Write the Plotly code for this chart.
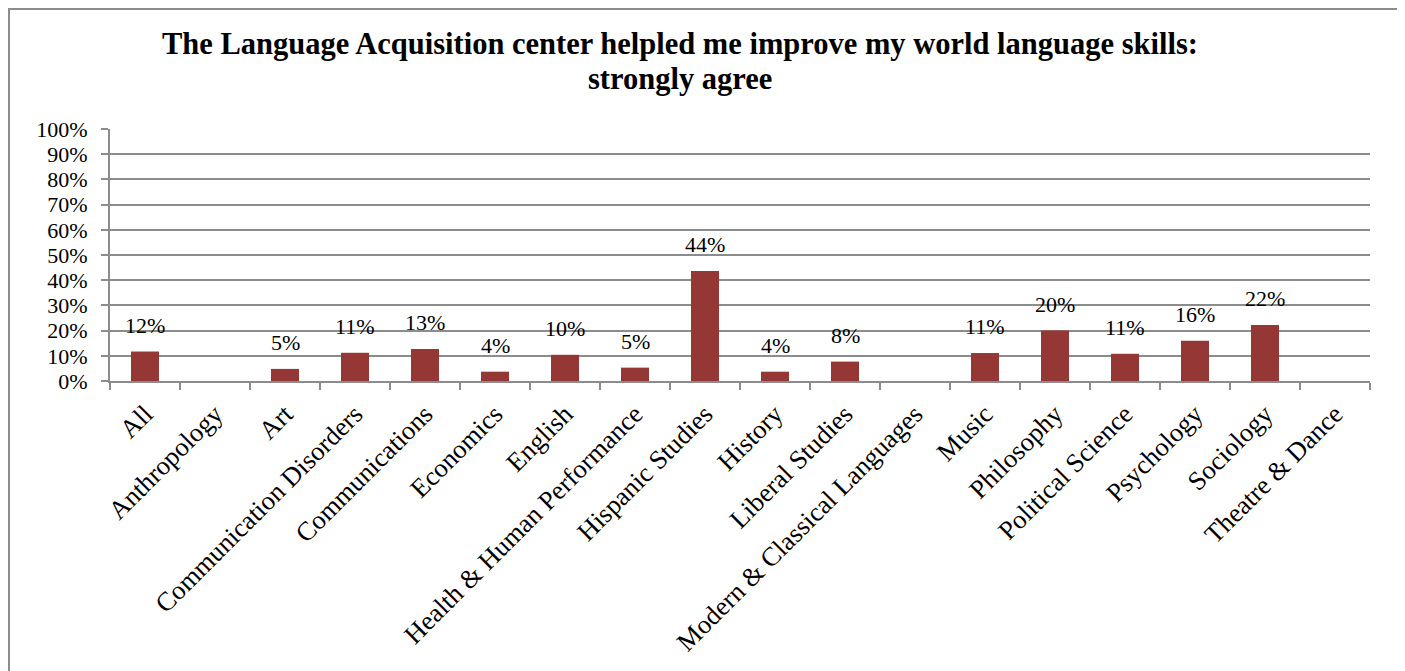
import plotly.graph_objects as go

# data
departments = [
    'All', 'Anthropology', 'Art', 'Communication Disorders', 'Communications',
    'Economics', 'English', 'Health & Human Performance', 'Hispanic Studies',
    'History', 'Liberal Studies', 'Modern & Classical Languages', 'Music',
    'Philosophy', 'Political Science', 'Psychology', 'Sociology', 'Theatre & Dance',
]
strongly_agree = [
    0.117, 0.0, 0.048, 0.112, 0.127,
    0.037, 0.104, 0.053, 0.437,
    0.037, 0.077, 0.0, 0.111,
    0.200, 0.108, 0.160, 0.222, 0.0,
]
label_text = [
    '12%', '', '5%', '11%', '13%',
    '4%', '10%', '5%', '44%',
    '4%', '8%', '', '11%',
    '20%', '11%', '16%', '22%', '',
]
y_ticks = [0, 0.1, 0.2, 0.3, 0.4, 0.5, 0.6, 0.7, 0.8, 0.9, 1.0]
y_tick_labels = ['0%', '10%', '20%', '30%', '40%', '50%', '60%', '70%', '80%', '90%', '100%']

TITLE_LINES = [
    'The Language Acquisition center helpled me improve my world language skills:',
    'strongly agree',
]

SERIF = 'Liberation Serif, Times New Roman, serif'
BAR_COLOR = '#953735'
GRID = '#8c8c8c'

# page body adds 8px, so layout numbers are shifted by that
L, T = 102, 121
PLOT_W, PLOT_H = 1260, 252


def paper_y(screen_y):
    # screen pixel row -> paper y
    return (T + 8 + PLOT_H - screen_y) / PLOT_H


def paper_x(screen_x):
    return (screen_x - L - 8) / PLOT_W


fig = go.Figure()
fig.add_trace(go.Bar(
    x=departments,
    y=strongly_agree,
    marker=dict(color=BAR_COLOR, line=dict(width=0)),
    width=0.4,
    hoverinfo='x+y',
))

# data labels above bars (Excel style "outside end")
for dep, val, txt in zip(departments, strongly_agree, label_text):
    if not txt:
        continue
    fig.add_annotation(
        x=dep, y=val, text=txt,
        xref='x', yref='y',
        showarrow=False,
        yanchor='bottom',
        yshift=12,
        font=dict(family=SERIF, size=22, color='black'),
    )

# title, two lines set tighter than plotly's own line height
for line, yy in zip(TITLE_LINES, [44, 79]):
    fig.add_annotation(
        text=f'<b>{line}</b>',
        xref='paper', yref='paper',
        x=paper_x(680), y=paper_y(yy),
        xanchor='center', yanchor='middle',
        showarrow=False,
        font=dict(family=SERIF, size=30.5, color='black'),
    )

# outer frame of the chart object
fig.add_shape(
    type='rect', xref='paper', yref='paper',
    x0=paper_x(9), x1=paper_x(1399),
    y0=paper_y(700), y1=paper_y(9),
    line=dict(color=GRID, width=2),
    fillcolor='rgba(0,0,0,0)',
    layer='below',
)

fig.update_layout(
    width=1405,
    height=671,
    margin=dict(l=L, r=1405 - L - PLOT_W, t=T, b=671 - T - PLOT_H),
    plot_bgcolor='white',
    paper_bgcolor='white',
    showlegend=False,
    xaxis=dict(
        type='category',
        tickangle=-45,
        tickson='boundaries',
        ticks='outside',
        ticklen=7,
        tickcolor=GRID,
        tickwidth=2,
        ticklabelstandoff=5,
        showline=True,
        linecolor=GRID,
        linewidth=2,
        showgrid=False,
        automargin=False,
        tickfont=dict(family=SERIF, size=26.5, color='black'),
    ),
    yaxis=dict(
        range=[0, 1.0],
        tickvals=y_ticks,
        ticktext=y_tick_labels,
        ticks='outside',
        ticklen=7,
        tickcolor=GRID,
        tickwidth=2,
        ticklabelstandoff=9,
        showline=True,
        linecolor=GRID,
        linewidth=2,
        showgrid=True,
        gridcolor=GRID,
        gridwidth=2,
        zeroline=False,
        automargin=False,
        tickfont=dict(family=SERIF, size=22, color='black'),
    ),
)

fig.write_html('out.html')
